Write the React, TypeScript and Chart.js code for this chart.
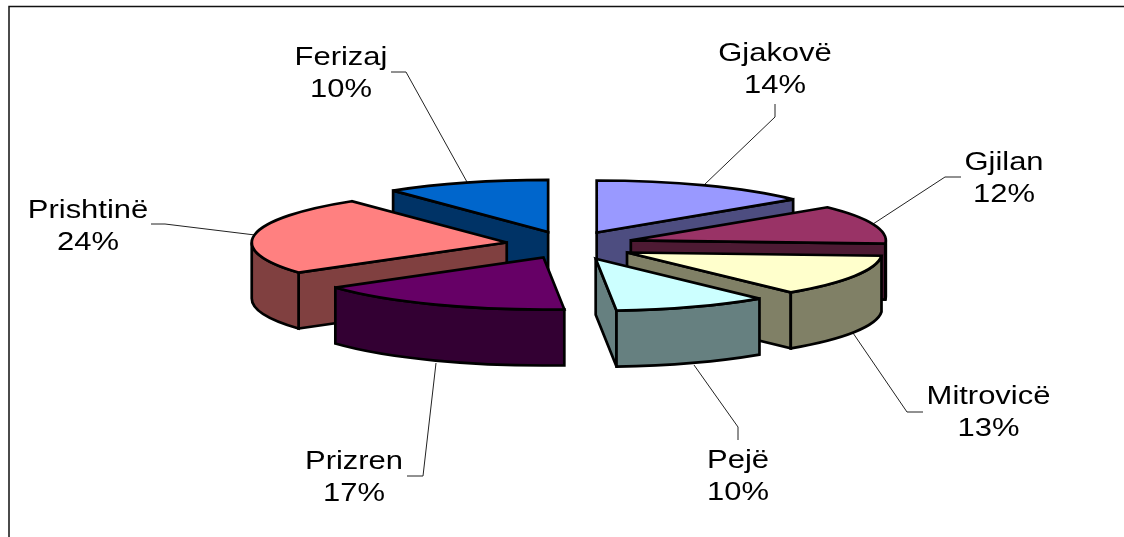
import React, { useEffect, useRef } from "react";
import { Chart, registerables } from "chart.js";

Chart.register(...registerables);

const categories = ["Gjakovë", "Gjilan", "Mitrovicë", "Pejë", "Prizren", "Prishtinë", "Ferizaj"];
// the printed labels are these values rounded
const shares = [14, 12, 12.9, 9.8, 16.5, 24.4, 10.4];
const topColors = ["#9999FF", "#993366", "#FFFFCC", "#CCFFFF", "#660066", "#FF8080", "#0066CC"];
const wallColors = ["#4D4D80", "#4D1A33", "#808066", "#668080", "#330033", "#804040", "#003366"];

// label anchors: centre x, baseline of the first line
const labelX = [775, 1004, 988.5, 738, 354, 88, 341];
const labelY = [61, 170, 404, 468, 469, 218, 65];
const leaders: number[][][] = [
  [[775, 104], [775, 117], [704, 185]],
  [[961, 177], [945, 177], [873, 224]],
  [[923, 412], [907, 412], [853, 333]],
  [[738, 440], [738, 427], [694, 365]],
  [[407, 476], [423, 476], [436, 363]],
  [[151, 224], [165, 224], [255, 235]],
  [[391, 72], [406, 72], [467, 182]],
];
// small layout corrections of the explosion, in pixels
const nudgeX = [0, 0, 0, 2, 2, 2, 0];
const nudgeY = [0, 0, 2, 2, 1, 0, 0];

const RADIUS = 255;
const EXPLODE = 65;
const TILT = 52 / 255;
const DEPTH = 56;
const FONT_SIZE = 26;
const TEXT_STRETCH = 1.19;
const LINE_GAP = 31.5;

const pie3d = {
  id: "pie3d",
  beforeDatasetsDraw(chart: any) {
    const ctx: CanvasRenderingContext2D = chart.ctx;
    // frame
    ctx.save();
    ctx.strokeStyle = "#111";
    ctx.lineWidth = 1.5;
    ctx.beginPath();
    ctx.moveTo(9, 537);
    ctx.lineTo(9, 6.5);
    ctx.lineTo(1124, 6.5);
    ctx.stroke();
    // leader lines lie under the slices
    ctx.strokeStyle = "#222";
    ctx.lineWidth = 1;
    leaders.forEach((pts) => {
      ctx.beginPath();
      pts.forEach(([x, y], i) => (i ? ctx.lineTo(x, y) : ctx.moveTo(x, y)));
      ctx.stroke();
    });
    ctx.restore();

    const arcs = chart.getDatasetMeta(0).data.map((arc: any, index: number) => {
      const p = arc.getProps(["x", "y", "startAngle", "endAngle", "outerRadius"], true);
      const mid = (p.startAngle + p.endAngle) / 2;
      const off = arc.options.offset;
      return {
        index,
        a0: p.startAngle,
        a1: p.endAngle,
        r: p.outerRadius,
        cx: p.x + Math.cos(mid) * off + nudgeX[index],
        cy: p.y + Math.sin(mid) * off * TILT + nudgeY[index],
      };
    });
    arcs.sort((a: any, b: any) => a.cy - b.cy);

    ctx.save();
    ctx.strokeStyle = "#000";
    ctx.lineWidth = 2.7;
    ctx.lineJoin = "miter";
    ctx.miterLimit = 3;
    const paint = (fill: string) => {
      ctx.closePath();
      ctx.fillStyle = fill;
      ctx.fill();
      ctx.stroke();
    };
    arcs.forEach(({ index, a0, a1, r, cx, cy }: any) => {
      const ry = r * TILT;
      const rimX = (t: number) => cx + r * Math.cos(t);
      const rimY = (t: number) => cy + ry * Math.sin(t);
      const wall = wallColors[index];
      const radial = (t: number) => {
        ctx.beginPath();
        ctx.moveTo(cx, cy);
        ctx.lineTo(rimX(t), rimY(t));
        ctx.lineTo(rimX(t), rimY(t) + DEPTH);
        ctx.lineTo(cx, cy + DEPTH);
        paint(wall);
      };
      if (Math.cos(a0) < -1e-6) radial(a0);
      if (Math.cos(a1) > 1e-6) radial(a1);
      // outer rim: only the part of the arc facing the viewer
      const ranges: number[][] = [];
      for (let k = -1; k <= 1; k++) {
        const lo = Math.max(a0, 2 * Math.PI * k);
        const hi = Math.min(a1, Math.PI + 2 * Math.PI * k);
        if (hi > lo) ranges.push([lo, hi]);
      }
      ranges.forEach(([lo, hi]) => {
        ctx.beginPath();
        ctx.ellipse(cx, cy, r, ry, 0, lo, hi);
        ctx.lineTo(rimX(hi), rimY(hi) + DEPTH);
        ctx.ellipse(cx, cy + DEPTH, r, ry, 0, hi, lo, true);
        paint(wall);
      });
      // top face
      ctx.beginPath();
      ctx.moveTo(cx, cy);
      ctx.ellipse(cx, cy, r, ry, 0, a0, a1);
      paint(topColors[index]);
    });
    ctx.restore();

    // labels
    ctx.save();
    ctx.fillStyle = "#000";
    ctx.font = `${FONT_SIZE}px "Liberation Sans", Arial, sans-serif`;
    ctx.textAlign = "center";
    ctx.textBaseline = "alphabetic";
    chart.data.labels.forEach((name: string, i: number) => {
      ctx.save();
      ctx.translate(labelX[i], labelY[i]);
      ctx.scale(TEXT_STRETCH, 1);
      ctx.fillText(name, 0, 0);
      ctx.fillText(`${Math.round(chart.data.datasets[0].data[i])}%`, 0, LINE_GAP);
      ctx.restore();
    });
    ctx.restore();
  },
  // the native flat arcs are replaced by the extruded ones above
  beforeDatasetDraw() {
    return false;
  },
};

export default function App() {
  const ref = useRef<HTMLCanvasElement>(null);
  useEffect(() => {
    document.body.style.margin = "0";
    const chart = new Chart(ref.current as HTMLCanvasElement, {
      type: "pie",
      data: {
        labels: categories,
        datasets: [
          {
            data: shares,
            backgroundColor: topColors,
            borderColor: "#000",
            borderWidth: 0,
            offset: EXPLODE,
          },
        ],
      },
      options: {
        animation: false,
        responsive: false,
        radius: RADIUS,
        layout: { padding: { left: 14, bottom: 48 } },
        plugins: { legend: { display: false }, tooltip: { enabled: false }, title: { display: false } },
      } as any,
      plugins: [pie3d as any],
    });
    return () => chart.destroy();
  }, []);
  return <canvas ref={ref} width={1124} height={537} style={{ display: "block" }} />;
}
